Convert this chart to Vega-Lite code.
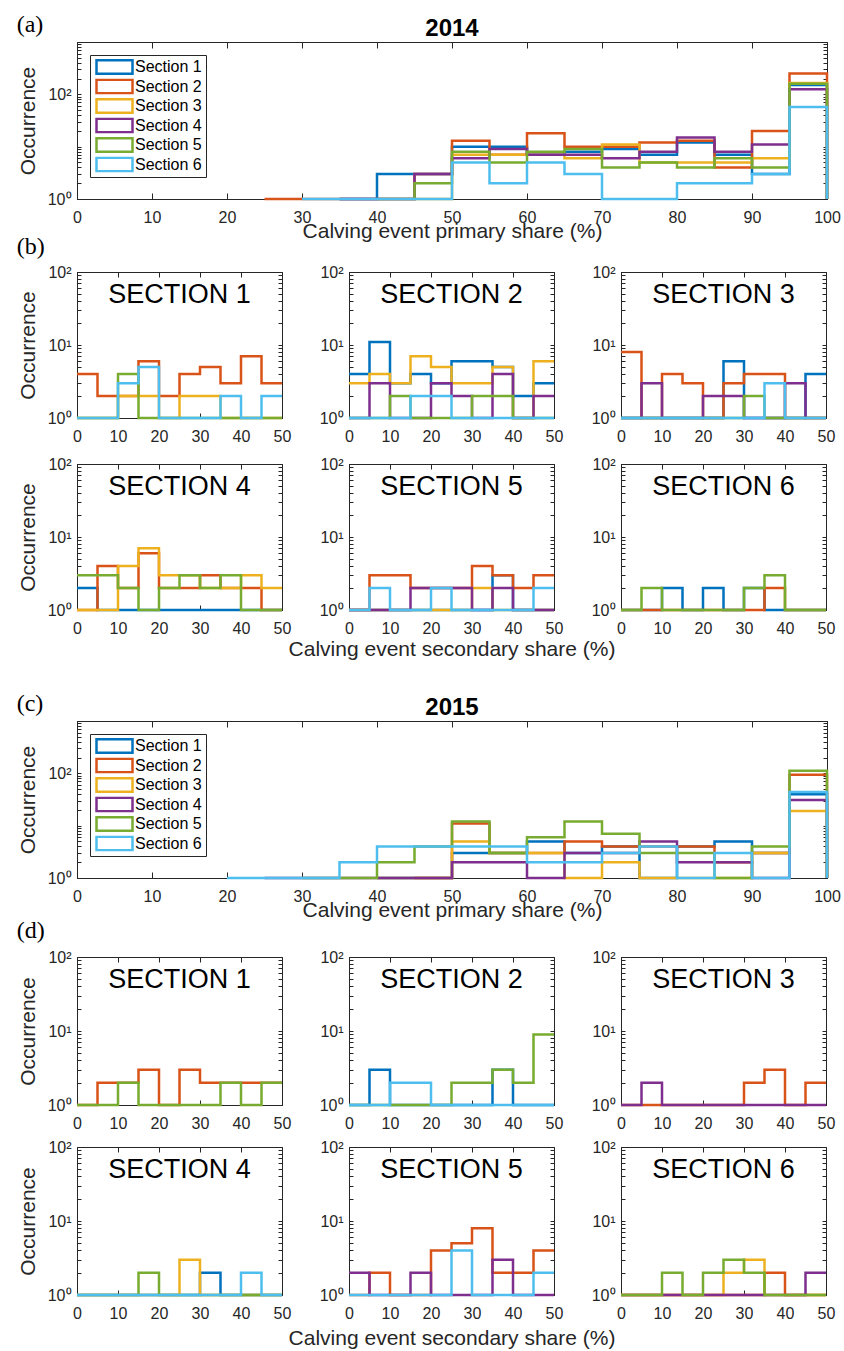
{
"$schema": "https://vega.github.io/schema/vega-lite/v6.json",
"background": "white",
"padding": {"left": 16, "top": 12, "right": 8, "bottom": 2},
"config": {
  "font": "Liberation Sans",
  "view": {"stroke": "#262626", "strokeWidth": 1},
  "axis": {"domainColor": "#262626", "tickColor": "#262626", "labelColor": "#262626", "titleColor": "#262626", "labelFont": "Liberation Sans", "titleFont": "Liberation Sans", "labelFontSize": 16, "titleFontSize": 21, "titleFontWeight": "normal", "grid": false, "labelFlush": false, "labelOverlap": false},
  "axisTop": {"labels": false, "domain": false, "tickSize": -5},
  "axisRight": {"labels": false, "domain": false, "tickSize": -4},
  "line": {"interpolate": "step-after", "strokeWidth": 2.5, "clip": false}
},
"datasets": {"h": [
{"p":"a","s":1,"x":35,"n":1},{"p":"a","s":1,"x":40,"n":3},{"p":"a","s":1,"x":45,"n":3},{"p":"a","s":1,"x":50,"n":10},{"p":"a","s":1,"x":55,"n":10},{"p":"a","s":1,"x":60,"n":7},{"p":"a","s":1,"x":65,"n":8},{"p":"a","s":1,"x":70,"n":9},{"p":"a","s":1,"x":75,"n":7},{"p":"a","s":1,"x":80,"n":12},{"p":"a","s":1,"x":85,"n":7},{"p":"a","s":1,"x":90,"n":3},{"p":"a","s":1,"x":95,"n":150},{"p":"a","s":1,"x":100,"n":150},{"p":"a","s":1,"x":100,"n":1},
{"p":"a","s":2,"x":25,"n":1},{"p":"a","s":2,"x":30,"n":1},{"p":"a","s":2,"x":35,"n":1},{"p":"a","s":2,"x":40,"n":1},{"p":"a","s":2,"x":45,"n":3},{"p":"a","s":2,"x":50,"n":13},{"p":"a","s":2,"x":55,"n":7},{"p":"a","s":2,"x":60,"n":18},{"p":"a","s":2,"x":65,"n":10},{"p":"a","s":2,"x":70,"n":10},{"p":"a","s":2,"x":75,"n":12},{"p":"a","s":2,"x":80,"n":13},{"p":"a","s":2,"x":85,"n":4},{"p":"a","s":2,"x":90,"n":20},{"p":"a","s":2,"x":95,"n":250},{"p":"a","s":2,"x":100,"n":250},{"p":"a","s":2,"x":100,"n":1},
{"p":"a","s":3,"x":45,"n":1},{"p":"a","s":3,"x":50,"n":7},{"p":"a","s":3,"x":55,"n":7},{"p":"a","s":3,"x":60,"n":7},{"p":"a","s":3,"x":65,"n":6},{"p":"a","s":3,"x":70,"n":11},{"p":"a","s":3,"x":75,"n":5},{"p":"a","s":3,"x":80,"n":5},{"p":"a","s":3,"x":85,"n":5},{"p":"a","s":3,"x":90,"n":6},{"p":"a","s":3,"x":95,"n":165},{"p":"a","s":3,"x":100,"n":165},{"p":"a","s":3,"x":100,"n":1},
{"p":"a","s":4,"x":35,"n":1},{"p":"a","s":4,"x":40,"n":1},{"p":"a","s":4,"x":45,"n":3},{"p":"a","s":4,"x":50,"n":6},{"p":"a","s":4,"x":55,"n":9},{"p":"a","s":4,"x":60,"n":7},{"p":"a","s":4,"x":65,"n":7},{"p":"a","s":4,"x":70,"n":6},{"p":"a","s":4,"x":75,"n":8},{"p":"a","s":4,"x":80,"n":15},{"p":"a","s":4,"x":85,"n":8},{"p":"a","s":4,"x":90,"n":11},{"p":"a","s":4,"x":95,"n":125},{"p":"a","s":4,"x":100,"n":125},{"p":"a","s":4,"x":100,"n":1},
{"p":"a","s":5,"x":40,"n":1},{"p":"a","s":5,"x":45,"n":2},{"p":"a","s":5,"x":50,"n":8},{"p":"a","s":5,"x":55,"n":5},{"p":"a","s":5,"x":60,"n":8},{"p":"a","s":5,"x":65,"n":9},{"p":"a","s":5,"x":70,"n":4},{"p":"a","s":5,"x":75,"n":5},{"p":"a","s":5,"x":80,"n":4},{"p":"a","s":5,"x":85,"n":6},{"p":"a","s":5,"x":90,"n":4},{"p":"a","s":5,"x":95,"n":160},{"p":"a","s":5,"x":100,"n":160},{"p":"a","s":5,"x":100,"n":1},
{"p":"a","s":6,"x":30,"n":1},{"p":"a","s":6,"x":35,"n":1},{"p":"a","s":6,"x":40,"n":1},{"p":"a","s":6,"x":45,"n":1},{"p":"a","s":6,"x":50,"n":5},{"p":"a","s":6,"x":55,"n":2},{"p":"a","s":6,"x":60,"n":5},{"p":"a","s":6,"x":65,"n":3},{"p":"a","s":6,"x":70,"n":1},{"p":"a","s":6,"x":75,"n":1},{"p":"a","s":6,"x":80,"n":2},{"p":"a","s":6,"x":85,"n":2},{"p":"a","s":6,"x":90,"n":3},{"p":"a","s":6,"x":95,"n":57},{"p":"a","s":6,"x":100,"n":57},{"p":"a","s":6,"x":100,"n":1},

{"p":"c","s":1,"x":40,"n":1},{"p":"c","s":1,"x":45,"n":1},{"p":"c","s":1,"x":50,"n":3},{"p":"c","s":1,"x":55,"n":3},{"p":"c","s":1,"x":60,"n":5},{"p":"c","s":1,"x":65,"n":3},{"p":"c","s":1,"x":70,"n":4},{"p":"c","s":1,"x":75,"n":1},{"p":"c","s":1,"x":80,"n":4},{"p":"c","s":1,"x":85,"n":5},{"p":"c","s":1,"x":90,"n":3},{"p":"c","s":1,"x":95,"n":40},{"p":"c","s":1,"x":100,"n":40},{"p":"c","s":1,"x":100,"n":1},
{"p":"c","s":2,"x":45,"n":1},{"p":"c","s":2,"x":50,"n":11},{"p":"c","s":2,"x":55,"n":3},{"p":"c","s":2,"x":60,"n":3},{"p":"c","s":2,"x":65,"n":5},{"p":"c","s":2,"x":70,"n":4},{"p":"c","s":2,"x":75,"n":4},{"p":"c","s":2,"x":80,"n":4},{"p":"c","s":2,"x":85,"n":2},{"p":"c","s":2,"x":90,"n":3},{"p":"c","s":2,"x":95,"n":94},{"p":"c","s":2,"x":100,"n":94},{"p":"c","s":2,"x":100,"n":1},
{"p":"c","s":3,"x":40,"n":1},{"p":"c","s":3,"x":45,"n":1},{"p":"c","s":3,"x":50,"n":5},{"p":"c","s":3,"x":55,"n":3},{"p":"c","s":3,"x":60,"n":3},{"p":"c","s":3,"x":65,"n":1},{"p":"c","s":3,"x":70,"n":2},{"p":"c","s":3,"x":75,"n":1},{"p":"c","s":3,"x":80,"n":1},{"p":"c","s":3,"x":85,"n":1},{"p":"c","s":3,"x":90,"n":3},{"p":"c","s":3,"x":95,"n":19},{"p":"c","s":3,"x":100,"n":19},{"p":"c","s":3,"x":100,"n":1},
{"p":"c","s":4,"x":25,"n":1},{"p":"c","s":4,"x":30,"n":1},{"p":"c","s":4,"x":35,"n":1},{"p":"c","s":4,"x":40,"n":1},{"p":"c","s":4,"x":45,"n":1},{"p":"c","s":4,"x":50,"n":2},{"p":"c","s":4,"x":55,"n":2},{"p":"c","s":4,"x":60,"n":1},{"p":"c","s":4,"x":65,"n":3},{"p":"c","s":4,"x":70,"n":3},{"p":"c","s":4,"x":75,"n":5},{"p":"c","s":4,"x":80,"n":2},{"p":"c","s":4,"x":85,"n":2},{"p":"c","s":4,"x":90,"n":1},{"p":"c","s":4,"x":95,"n":31},{"p":"c","s":4,"x":100,"n":31},{"p":"c","s":4,"x":100,"n":1},
{"p":"c","s":5,"x":30,"n":1},{"p":"c","s":5,"x":35,"n":1},{"p":"c","s":5,"x":40,"n":2},{"p":"c","s":5,"x":45,"n":4},{"p":"c","s":5,"x":50,"n":12},{"p":"c","s":5,"x":55,"n":3},{"p":"c","s":5,"x":60,"n":6},{"p":"c","s":5,"x":65,"n":12},{"p":"c","s":5,"x":70,"n":7},{"p":"c","s":5,"x":75,"n":3},{"p":"c","s":5,"x":80,"n":3},{"p":"c","s":5,"x":85,"n":1},{"p":"c","s":5,"x":90,"n":4},{"p":"c","s":5,"x":95,"n":112},{"p":"c","s":5,"x":100,"n":112},{"p":"c","s":5,"x":100,"n":1},
{"p":"c","s":6,"x":20,"n":1},{"p":"c","s":6,"x":25,"n":1},{"p":"c","s":6,"x":30,"n":1},{"p":"c","s":6,"x":35,"n":2},{"p":"c","s":6,"x":40,"n":4},{"p":"c","s":6,"x":45,"n":4},{"p":"c","s":6,"x":50,"n":4},{"p":"c","s":6,"x":55,"n":4},{"p":"c","s":6,"x":60,"n":2},{"p":"c","s":6,"x":65,"n":2},{"p":"c","s":6,"x":70,"n":3},{"p":"c","s":6,"x":75,"n":4},{"p":"c","s":6,"x":80,"n":1},{"p":"c","s":6,"x":85,"n":3},{"p":"c","s":6,"x":90,"n":1},{"p":"c","s":6,"x":95,"n":44},{"p":"c","s":6,"x":100,"n":44},{"p":"c","s":6,"x":100,"n":1},

{"p":"b1","s":2,"x":0,"n":4},{"p":"b1","s":2,"x":5,"n":2},{"p":"b1","s":2,"x":10,"n":2},{"p":"b1","s":2,"x":15,"n":6},{"p":"b1","s":2,"x":20,"n":2},{"p":"b1","s":2,"x":25,"n":4},{"p":"b1","s":2,"x":30,"n":5},{"p":"b1","s":2,"x":35,"n":3},{"p":"b1","s":2,"x":40,"n":7},{"p":"b1","s":2,"x":45,"n":3},{"p":"b1","s":2,"x":50,"n":3},
{"p":"b1","s":3,"x":0,"n":1},{"p":"b1","s":3,"x":5,"n":1},{"p":"b1","s":3,"x":10,"n":2},{"p":"b1","s":3,"x":15,"n":2},{"p":"b1","s":3,"x":20,"n":1},{"p":"b1","s":3,"x":25,"n":2},{"p":"b1","s":3,"x":30,"n":2},{"p":"b1","s":3,"x":35,"n":1},{"p":"b1","s":3,"x":40,"n":1},{"p":"b1","s":3,"x":45,"n":1},{"p":"b1","s":3,"x":50,"n":1},
{"p":"b1","s":5,"x":0,"n":1},{"p":"b1","s":5,"x":5,"n":1},{"p":"b1","s":5,"x":10,"n":4},{"p":"b1","s":5,"x":15,"n":1},{"p":"b1","s":5,"x":20,"n":1},{"p":"b1","s":5,"x":25,"n":1},{"p":"b1","s":5,"x":30,"n":1},{"p":"b1","s":5,"x":35,"n":1},{"p":"b1","s":5,"x":40,"n":1},{"p":"b1","s":5,"x":45,"n":1},{"p":"b1","s":5,"x":50,"n":1},
{"p":"b1","s":6,"x":0,"n":1},{"p":"b1","s":6,"x":5,"n":1},{"p":"b1","s":6,"x":10,"n":3},{"p":"b1","s":6,"x":15,"n":5},{"p":"b1","s":6,"x":20,"n":1},{"p":"b1","s":6,"x":25,"n":1},{"p":"b1","s":6,"x":30,"n":1},{"p":"b1","s":6,"x":35,"n":2},{"p":"b1","s":6,"x":40,"n":1},{"p":"b1","s":6,"x":45,"n":2},{"p":"b1","s":6,"x":50,"n":2},

{"p":"b2","s":1,"x":0,"n":4},{"p":"b2","s":1,"x":5,"n":11},{"p":"b2","s":1,"x":10,"n":3},{"p":"b2","s":1,"x":15,"n":4},{"p":"b2","s":1,"x":20,"n":3},{"p":"b2","s":1,"x":25,"n":6},{"p":"b2","s":1,"x":30,"n":6},{"p":"b2","s":1,"x":35,"n":5},{"p":"b2","s":1,"x":40,"n":2},{"p":"b2","s":1,"x":45,"n":3},{"p":"b2","s":1,"x":50,"n":3},
{"p":"b2","s":3,"x":0,"n":3},{"p":"b2","s":3,"x":5,"n":4},{"p":"b2","s":3,"x":10,"n":3},{"p":"b2","s":3,"x":15,"n":7},{"p":"b2","s":3,"x":20,"n":5},{"p":"b2","s":3,"x":25,"n":3},{"p":"b2","s":3,"x":30,"n":3},{"p":"b2","s":3,"x":35,"n":5},{"p":"b2","s":3,"x":40,"n":1},{"p":"b2","s":3,"x":45,"n":6},{"p":"b2","s":3,"x":50,"n":6},
{"p":"b2","s":4,"x":0,"n":1},{"p":"b2","s":4,"x":5,"n":3},{"p":"b2","s":4,"x":10,"n":1},{"p":"b2","s":4,"x":15,"n":1},{"p":"b2","s":4,"x":20,"n":3},{"p":"b2","s":4,"x":25,"n":2},{"p":"b2","s":4,"x":30,"n":1},{"p":"b2","s":4,"x":35,"n":4},{"p":"b2","s":4,"x":40,"n":1},{"p":"b2","s":4,"x":45,"n":2},{"p":"b2","s":4,"x":50,"n":2},
{"p":"b2","s":5,"x":0,"n":1},{"p":"b2","s":5,"x":5,"n":1},{"p":"b2","s":5,"x":10,"n":2},{"p":"b2","s":5,"x":15,"n":1},{"p":"b2","s":5,"x":20,"n":1},{"p":"b2","s":5,"x":25,"n":1},{"p":"b2","s":5,"x":30,"n":2},{"p":"b2","s":5,"x":35,"n":2},{"p":"b2","s":5,"x":40,"n":1},{"p":"b2","s":5,"x":45,"n":1},{"p":"b2","s":5,"x":50,"n":1},
{"p":"b2","s":6,"x":0,"n":1},{"p":"b2","s":6,"x":5,"n":1},{"p":"b2","s":6,"x":10,"n":1},{"p":"b2","s":6,"x":15,"n":2},{"p":"b2","s":6,"x":20,"n":2},{"p":"b2","s":6,"x":25,"n":1},{"p":"b2","s":6,"x":30,"n":1},{"p":"b2","s":6,"x":35,"n":1},{"p":"b2","s":6,"x":40,"n":1},{"p":"b2","s":6,"x":45,"n":1},{"p":"b2","s":6,"x":50,"n":1},

{"p":"b3","s":1,"x":0,"n":1},{"p":"b3","s":1,"x":5,"n":1},{"p":"b3","s":1,"x":10,"n":1},{"p":"b3","s":1,"x":15,"n":1},{"p":"b3","s":1,"x":20,"n":1},{"p":"b3","s":1,"x":25,"n":6},{"p":"b3","s":1,"x":30,"n":1},{"p":"b3","s":1,"x":35,"n":1},{"p":"b3","s":1,"x":40,"n":1},{"p":"b3","s":1,"x":45,"n":4},{"p":"b3","s":1,"x":50,"n":4},
{"p":"b3","s":2,"x":0,"n":8},{"p":"b3","s":2,"x":5,"n":1},{"p":"b3","s":2,"x":10,"n":4},{"p":"b3","s":2,"x":15,"n":3},{"p":"b3","s":2,"x":20,"n":1},{"p":"b3","s":2,"x":25,"n":3},{"p":"b3","s":2,"x":30,"n":4},{"p":"b3","s":2,"x":35,"n":4},{"p":"b3","s":2,"x":40,"n":1},{"p":"b3","s":2,"x":45,"n":1},{"p":"b3","s":2,"x":50,"n":1},
{"p":"b3","s":4,"x":0,"n":1},{"p":"b3","s":4,"x":5,"n":3},{"p":"b3","s":4,"x":10,"n":1},{"p":"b3","s":4,"x":15,"n":1},{"p":"b3","s":4,"x":20,"n":2},{"p":"b3","s":4,"x":25,"n":2},{"p":"b3","s":4,"x":30,"n":1},{"p":"b3","s":4,"x":35,"n":1},{"p":"b3","s":4,"x":40,"n":3},{"p":"b3","s":4,"x":45,"n":1},{"p":"b3","s":4,"x":50,"n":1},
{"p":"b3","s":5,"x":0,"n":1},{"p":"b3","s":5,"x":5,"n":1},{"p":"b3","s":5,"x":10,"n":1},{"p":"b3","s":5,"x":15,"n":1},{"p":"b3","s":5,"x":20,"n":1},{"p":"b3","s":5,"x":25,"n":1},{"p":"b3","s":5,"x":30,"n":2},{"p":"b3","s":5,"x":35,"n":1},{"p":"b3","s":5,"x":40,"n":1},{"p":"b3","s":5,"x":45,"n":1},{"p":"b3","s":5,"x":50,"n":1},
{"p":"b3","s":6,"x":0,"n":1},{"p":"b3","s":6,"x":5,"n":1},{"p":"b3","s":6,"x":10,"n":1},{"p":"b3","s":6,"x":15,"n":1},{"p":"b3","s":6,"x":20,"n":1},{"p":"b3","s":6,"x":25,"n":1},{"p":"b3","s":6,"x":30,"n":1},{"p":"b3","s":6,"x":35,"n":3},{"p":"b3","s":6,"x":40,"n":1},{"p":"b3","s":6,"x":45,"n":1},{"p":"b3","s":6,"x":50,"n":1},

{"p":"b4","s":1,"x":0,"n":2},{"p":"b4","s":1,"x":5,"n":1},{"p":"b4","s":1,"x":10,"n":1},{"p":"b4","s":1,"x":15,"n":1},{"p":"b4","s":1,"x":20,"n":1},{"p":"b4","s":1,"x":25,"n":1},{"p":"b4","s":1,"x":30,"n":1},{"p":"b4","s":1,"x":35,"n":1},{"p":"b4","s":1,"x":40,"n":1},{"p":"b4","s":1,"x":45,"n":1},{"p":"b4","s":1,"x":50,"n":1},
{"p":"b4","s":2,"x":0,"n":1},{"p":"b4","s":2,"x":5,"n":4},{"p":"b4","s":2,"x":10,"n":2},{"p":"b4","s":2,"x":15,"n":6},{"p":"b4","s":2,"x":20,"n":2},{"p":"b4","s":2,"x":25,"n":2},{"p":"b4","s":2,"x":30,"n":3},{"p":"b4","s":2,"x":35,"n":2},{"p":"b4","s":2,"x":40,"n":2},{"p":"b4","s":2,"x":45,"n":1},{"p":"b4","s":2,"x":50,"n":1},
{"p":"b4","s":3,"x":0,"n":1},{"p":"b4","s":3,"x":5,"n":1},{"p":"b4","s":3,"x":10,"n":4},{"p":"b4","s":3,"x":15,"n":7},{"p":"b4","s":3,"x":20,"n":3},{"p":"b4","s":3,"x":25,"n":3},{"p":"b4","s":3,"x":30,"n":2},{"p":"b4","s":3,"x":35,"n":2},{"p":"b4","s":3,"x":40,"n":3},{"p":"b4","s":3,"x":45,"n":2},{"p":"b4","s":3,"x":50,"n":2},
{"p":"b4","s":5,"x":0,"n":3},{"p":"b4","s":5,"x":5,"n":3},{"p":"b4","s":5,"x":10,"n":2},{"p":"b4","s":5,"x":15,"n":1},{"p":"b4","s":5,"x":20,"n":2},{"p":"b4","s":5,"x":25,"n":3},{"p":"b4","s":5,"x":30,"n":2},{"p":"b4","s":5,"x":35,"n":3},{"p":"b4","s":5,"x":40,"n":1},{"p":"b4","s":5,"x":45,"n":1},{"p":"b4","s":5,"x":50,"n":1},

{"p":"b5","s":1,"x":0,"n":1},{"p":"b5","s":1,"x":5,"n":1},{"p":"b5","s":1,"x":10,"n":1},{"p":"b5","s":1,"x":15,"n":1},{"p":"b5","s":1,"x":20,"n":1},{"p":"b5","s":1,"x":25,"n":1},{"p":"b5","s":1,"x":30,"n":1},{"p":"b5","s":1,"x":35,"n":3},{"p":"b5","s":1,"x":40,"n":1},{"p":"b5","s":1,"x":45,"n":1},{"p":"b5","s":1,"x":50,"n":1},
{"p":"b5","s":2,"x":0,"n":1},{"p":"b5","s":2,"x":5,"n":3},{"p":"b5","s":2,"x":10,"n":3},{"p":"b5","s":2,"x":15,"n":2},{"p":"b5","s":2,"x":20,"n":2},{"p":"b5","s":2,"x":25,"n":2},{"p":"b5","s":2,"x":30,"n":4},{"p":"b5","s":2,"x":35,"n":3},{"p":"b5","s":2,"x":40,"n":2},{"p":"b5","s":2,"x":45,"n":3},{"p":"b5","s":2,"x":50,"n":3},
{"p":"b5","s":3,"x":0,"n":1},{"p":"b5","s":3,"x":5,"n":1},{"p":"b5","s":3,"x":10,"n":1},{"p":"b5","s":3,"x":15,"n":1},{"p":"b5","s":3,"x":20,"n":1},{"p":"b5","s":3,"x":25,"n":1},{"p":"b5","s":3,"x":30,"n":2},{"p":"b5","s":3,"x":35,"n":1},{"p":"b5","s":3,"x":40,"n":1},{"p":"b5","s":3,"x":45,"n":1},{"p":"b5","s":3,"x":50,"n":1},
{"p":"b5","s":4,"x":0,"n":1},{"p":"b5","s":4,"x":5,"n":1},{"p":"b5","s":4,"x":10,"n":1},{"p":"b5","s":4,"x":15,"n":2},{"p":"b5","s":4,"x":20,"n":2},{"p":"b5","s":4,"x":25,"n":2},{"p":"b5","s":4,"x":30,"n":1},{"p":"b5","s":4,"x":35,"n":2},{"p":"b5","s":4,"x":40,"n":1},{"p":"b5","s":4,"x":45,"n":1},{"p":"b5","s":4,"x":50,"n":1},
{"p":"b5","s":6,"x":0,"n":1},{"p":"b5","s":6,"x":5,"n":2},{"p":"b5","s":6,"x":10,"n":1},{"p":"b5","s":6,"x":15,"n":1},{"p":"b5","s":6,"x":20,"n":2},{"p":"b5","s":6,"x":25,"n":1},{"p":"b5","s":6,"x":30,"n":1},{"p":"b5","s":6,"x":35,"n":1},{"p":"b5","s":6,"x":40,"n":1},{"p":"b5","s":6,"x":45,"n":2},{"p":"b5","s":6,"x":50,"n":2},

{"p":"b6","s":1,"x":0,"n":1},{"p":"b6","s":1,"x":5,"n":1},{"p":"b6","s":1,"x":10,"n":2},{"p":"b6","s":1,"x":15,"n":1},{"p":"b6","s":1,"x":20,"n":2},{"p":"b6","s":1,"x":25,"n":1},{"p":"b6","s":1,"x":30,"n":2},{"p":"b6","s":1,"x":35,"n":1},{"p":"b6","s":1,"x":40,"n":1},{"p":"b6","s":1,"x":45,"n":1},{"p":"b6","s":1,"x":50,"n":1},
{"p":"b6","s":2,"x":0,"n":1},{"p":"b6","s":2,"x":5,"n":1},{"p":"b6","s":2,"x":10,"n":1},{"p":"b6","s":2,"x":15,"n":1},{"p":"b6","s":2,"x":20,"n":1},{"p":"b6","s":2,"x":25,"n":1},{"p":"b6","s":2,"x":30,"n":1},{"p":"b6","s":2,"x":35,"n":2},{"p":"b6","s":2,"x":40,"n":1},{"p":"b6","s":2,"x":45,"n":1},{"p":"b6","s":2,"x":50,"n":1},
{"p":"b6","s":5,"x":0,"n":1},{"p":"b6","s":5,"x":5,"n":2},{"p":"b6","s":5,"x":10,"n":1},{"p":"b6","s":5,"x":15,"n":1},{"p":"b6","s":5,"x":20,"n":1},{"p":"b6","s":5,"x":25,"n":1},{"p":"b6","s":5,"x":30,"n":2},{"p":"b6","s":5,"x":35,"n":3},{"p":"b6","s":5,"x":40,"n":1},{"p":"b6","s":5,"x":45,"n":1},{"p":"b6","s":5,"x":50,"n":1},

{"p":"d1","s":2,"x":0,"n":1},{"p":"d1","s":2,"x":5,"n":2},{"p":"d1","s":2,"x":10,"n":2},{"p":"d1","s":2,"x":15,"n":3},{"p":"d1","s":2,"x":20,"n":1},{"p":"d1","s":2,"x":25,"n":3},{"p":"d1","s":2,"x":30,"n":2},{"p":"d1","s":2,"x":35,"n":2},{"p":"d1","s":2,"x":40,"n":2},{"p":"d1","s":2,"x":45,"n":2},{"p":"d1","s":2,"x":50,"n":2},
{"p":"d1","s":5,"x":0,"n":1},{"p":"d1","s":5,"x":5,"n":1},{"p":"d1","s":5,"x":10,"n":2},{"p":"d1","s":5,"x":15,"n":1},{"p":"d1","s":5,"x":20,"n":1},{"p":"d1","s":5,"x":25,"n":1},{"p":"d1","s":5,"x":30,"n":1},{"p":"d1","s":5,"x":35,"n":2},{"p":"d1","s":5,"x":40,"n":1},{"p":"d1","s":5,"x":45,"n":2},{"p":"d1","s":5,"x":50,"n":2},

{"p":"d2","s":1,"x":0,"n":1},{"p":"d2","s":1,"x":5,"n":3},{"p":"d2","s":1,"x":10,"n":1},{"p":"d2","s":1,"x":15,"n":1},{"p":"d2","s":1,"x":20,"n":1},{"p":"d2","s":1,"x":25,"n":1},{"p":"d2","s":1,"x":30,"n":1},{"p":"d2","s":1,"x":35,"n":3},{"p":"d2","s":1,"x":40,"n":1},{"p":"d2","s":1,"x":45,"n":1},{"p":"d2","s":1,"x":50,"n":1},
{"p":"d2","s":5,"x":0,"n":1},{"p":"d2","s":5,"x":5,"n":1},{"p":"d2","s":5,"x":10,"n":1},{"p":"d2","s":5,"x":15,"n":1},{"p":"d2","s":5,"x":20,"n":1},{"p":"d2","s":5,"x":25,"n":2},{"p":"d2","s":5,"x":30,"n":2},{"p":"d2","s":5,"x":35,"n":3},{"p":"d2","s":5,"x":40,"n":2},{"p":"d2","s":5,"x":45,"n":9},{"p":"d2","s":5,"x":50,"n":9},
{"p":"d2","s":6,"x":0,"n":1},{"p":"d2","s":6,"x":5,"n":1},{"p":"d2","s":6,"x":10,"n":2},{"p":"d2","s":6,"x":15,"n":2},{"p":"d2","s":6,"x":20,"n":1},{"p":"d2","s":6,"x":25,"n":1},{"p":"d2","s":6,"x":30,"n":1},{"p":"d2","s":6,"x":35,"n":1},{"p":"d2","s":6,"x":40,"n":1},{"p":"d2","s":6,"x":45,"n":1},{"p":"d2","s":6,"x":50,"n":1},

{"p":"d3","s":2,"x":0,"n":1},{"p":"d3","s":2,"x":5,"n":1},{"p":"d3","s":2,"x":10,"n":1},{"p":"d3","s":2,"x":15,"n":1},{"p":"d3","s":2,"x":20,"n":1},{"p":"d3","s":2,"x":25,"n":1},{"p":"d3","s":2,"x":30,"n":2},{"p":"d3","s":2,"x":35,"n":3},{"p":"d3","s":2,"x":40,"n":1},{"p":"d3","s":2,"x":45,"n":2},{"p":"d3","s":2,"x":50,"n":2},
{"p":"d3","s":4,"x":0,"n":1},{"p":"d3","s":4,"x":5,"n":2},{"p":"d3","s":4,"x":10,"n":1},{"p":"d3","s":4,"x":15,"n":1},{"p":"d3","s":4,"x":20,"n":1},{"p":"d3","s":4,"x":25,"n":1},{"p":"d3","s":4,"x":30,"n":1},{"p":"d3","s":4,"x":35,"n":1},{"p":"d3","s":4,"x":40,"n":1},{"p":"d3","s":4,"x":45,"n":1},{"p":"d3","s":4,"x":50,"n":1},

{"p":"d4","s":1,"x":0,"n":1},{"p":"d4","s":1,"x":5,"n":1},{"p":"d4","s":1,"x":10,"n":1},{"p":"d4","s":1,"x":15,"n":1},{"p":"d4","s":1,"x":20,"n":1},{"p":"d4","s":1,"x":25,"n":1},{"p":"d4","s":1,"x":30,"n":2},{"p":"d4","s":1,"x":35,"n":1},{"p":"d4","s":1,"x":40,"n":1},{"p":"d4","s":1,"x":45,"n":1},{"p":"d4","s":1,"x":50,"n":1},
{"p":"d4","s":3,"x":0,"n":1},{"p":"d4","s":3,"x":5,"n":1},{"p":"d4","s":3,"x":10,"n":1},{"p":"d4","s":3,"x":15,"n":1},{"p":"d4","s":3,"x":20,"n":1},{"p":"d4","s":3,"x":25,"n":3},{"p":"d4","s":3,"x":30,"n":1},{"p":"d4","s":3,"x":35,"n":1},{"p":"d4","s":3,"x":40,"n":1},{"p":"d4","s":3,"x":45,"n":1},{"p":"d4","s":3,"x":50,"n":1},
{"p":"d4","s":5,"x":0,"n":1},{"p":"d4","s":5,"x":5,"n":1},{"p":"d4","s":5,"x":10,"n":1},{"p":"d4","s":5,"x":15,"n":2},{"p":"d4","s":5,"x":20,"n":1},{"p":"d4","s":5,"x":25,"n":1},{"p":"d4","s":5,"x":30,"n":1},{"p":"d4","s":5,"x":35,"n":1},{"p":"d4","s":5,"x":40,"n":1},{"p":"d4","s":5,"x":45,"n":1},{"p":"d4","s":5,"x":50,"n":1},
{"p":"d4","s":6,"x":0,"n":1},{"p":"d4","s":6,"x":5,"n":1},{"p":"d4","s":6,"x":10,"n":1},{"p":"d4","s":6,"x":15,"n":1},{"p":"d4","s":6,"x":20,"n":1},{"p":"d4","s":6,"x":25,"n":1},{"p":"d4","s":6,"x":30,"n":1},{"p":"d4","s":6,"x":35,"n":1},{"p":"d4","s":6,"x":40,"n":2},{"p":"d4","s":6,"x":45,"n":1},{"p":"d4","s":6,"x":50,"n":1},

{"p":"d5","s":2,"x":0,"n":1},{"p":"d5","s":2,"x":5,"n":2},{"p":"d5","s":2,"x":10,"n":1},{"p":"d5","s":2,"x":15,"n":1},{"p":"d5","s":2,"x":20,"n":4},{"p":"d5","s":2,"x":25,"n":5},{"p":"d5","s":2,"x":30,"n":8},{"p":"d5","s":2,"x":35,"n":2},{"p":"d5","s":2,"x":40,"n":2},{"p":"d5","s":2,"x":45,"n":4},{"p":"d5","s":2,"x":50,"n":4},
{"p":"d5","s":4,"x":0,"n":2},{"p":"d5","s":4,"x":5,"n":1},{"p":"d5","s":4,"x":10,"n":1},{"p":"d5","s":4,"x":15,"n":2},{"p":"d5","s":4,"x":20,"n":1},{"p":"d5","s":4,"x":25,"n":1},{"p":"d5","s":4,"x":30,"n":1},{"p":"d5","s":4,"x":35,"n":3},{"p":"d5","s":4,"x":40,"n":1},{"p":"d5","s":4,"x":45,"n":1},{"p":"d5","s":4,"x":50,"n":1},
{"p":"d5","s":6,"x":0,"n":1},{"p":"d5","s":6,"x":5,"n":1},{"p":"d5","s":6,"x":10,"n":1},{"p":"d5","s":6,"x":15,"n":1},{"p":"d5","s":6,"x":20,"n":1},{"p":"d5","s":6,"x":25,"n":4},{"p":"d5","s":6,"x":30,"n":1},{"p":"d5","s":6,"x":35,"n":1},{"p":"d5","s":6,"x":40,"n":1},{"p":"d5","s":6,"x":45,"n":2},{"p":"d5","s":6,"x":50,"n":2},

{"p":"d6","s":2,"x":0,"n":1},{"p":"d6","s":2,"x":5,"n":1},{"p":"d6","s":2,"x":10,"n":1},{"p":"d6","s":2,"x":15,"n":1},{"p":"d6","s":2,"x":20,"n":1},{"p":"d6","s":2,"x":25,"n":1},{"p":"d6","s":2,"x":30,"n":1},{"p":"d6","s":2,"x":35,"n":2},{"p":"d6","s":2,"x":40,"n":1},{"p":"d6","s":2,"x":45,"n":1},{"p":"d6","s":2,"x":50,"n":1},
{"p":"d6","s":3,"x":0,"n":1},{"p":"d6","s":3,"x":5,"n":1},{"p":"d6","s":3,"x":10,"n":1},{"p":"d6","s":3,"x":15,"n":1},{"p":"d6","s":3,"x":20,"n":1},{"p":"d6","s":3,"x":25,"n":2},{"p":"d6","s":3,"x":30,"n":3},{"p":"d6","s":3,"x":35,"n":1},{"p":"d6","s":3,"x":40,"n":1},{"p":"d6","s":3,"x":45,"n":1},{"p":"d6","s":3,"x":50,"n":1},
{"p":"d6","s":4,"x":0,"n":1},{"p":"d6","s":4,"x":5,"n":1},{"p":"d6","s":4,"x":10,"n":1},{"p":"d6","s":4,"x":15,"n":1},{"p":"d6","s":4,"x":20,"n":1},{"p":"d6","s":4,"x":25,"n":1},{"p":"d6","s":4,"x":30,"n":1},{"p":"d6","s":4,"x":35,"n":1},{"p":"d6","s":4,"x":40,"n":1},{"p":"d6","s":4,"x":45,"n":2},{"p":"d6","s":4,"x":50,"n":2},
{"p":"d6","s":5,"x":0,"n":1},{"p":"d6","s":5,"x":5,"n":1},{"p":"d6","s":5,"x":10,"n":2},{"p":"d6","s":5,"x":15,"n":1},{"p":"d6","s":5,"x":20,"n":2},{"p":"d6","s":5,"x":25,"n":3},{"p":"d6","s":5,"x":30,"n":2},{"p":"d6","s":5,"x":35,"n":1},{"p":"d6","s":5,"x":40,"n":1},{"p":"d6","s":5,"x":45,"n":1},{"p":"d6","s":5,"x":50,"n":1}
]},
"resolve": {"scale": {"color": "independent"}, "legend": {"color": "independent"}},
"spacing": 31,
"vconcat": [
 {"spacing": -8, "resolve": {"scale": {"color": "independent"}, "legend": {"color": "independent"}},
  "vconcat": [
  {"title": {"text": "(a)", "anchor": "start", "font": "Liberation Serif", "fontSize": 24, "fontWeight": "normal", "color": "black", "offset": -20},
   "resolve": {"scale": {"color": "independent"}, "legend": {"color": "independent"}},
   "vconcat": [
    {"width": 750, "height": 157,
     "title": {"text": "2014", "fontSize": 24, "fontWeight": "bold", "color": "black", "offset": -7},
     "data": {"name": "h"}, "transform": [{"filter": "datum.p == 'a'"}],
     "resolve": {"axis": {"x": "independent", "y": "independent"}},
     "layer": [
      {"mark": {"type": "line"},
       "encoding": {
        "x": {"field": "x", "type": "quantitative", "scale": {"domain": [0, 100], "nice": false, "zero": false}, "axis": {"values": [0,10,20,30,40,50,60,70,80,90,100], "title": "Calving event primary share (%)", "tickSize": -6, "labelPadding": 16, "titlePadding": -5}},
        "y": {"field": "n", "type": "quantitative", "scale": {"type": "log", "domain": [1, 1000], "nice": false}, "axis": {"values": [1,2,3,4,5,6,7,8,9,10,20,30,40,50,60,70,80,90,100,200,300,400,500,600,700,800,900,1000], "labelExpr": "datum.value == 1 ? '10⁰' : datum.value == 100 ? '10²' : ''", "title": "Occurrence", "tickSize": -4, "labelPadding": 10, "titlePadding": 9}},
        "color": {"field": "s", "type": "nominal", "scale": {"domain": [1,2,3,4,5,6], "range": ["#0072BD","#D95319","#EDB120","#7E2F8E","#77AC30","#4DBEEE"]},
         "legend": {"orient": "top-left", "offset": 13, "title": null, "labelExpr": "'Section ' + datum.label", "symbolType": "M-2.25,-0.85H2.25V0.85H-2.25Z", "symbolSize": 256, "symbolStrokeWidth": 3, "symbolFillColor": "transparent", "symbolOffset": 11, "clipHeight": 16, "labelFontSize": 16, "labelFont": "Liberation Sans", "labelColor": "black", "strokeColor": "#262626", "fillColor": "white", "padding": 4, "rowPadding": 3.5, "labelOffset": 11}}}},
      {"mark": {"type": "line", "opacity": 0},
       "encoding": {
        "x": {"field": "x", "type": "quantitative", "scale": {"domain": [0, 100], "nice": false, "zero": false}, "axis": {"orient": "top", "values": [0,10,20,30,40,50,60,70,80,90,100], "title": null, "tickSize": -6}},
        "y": {"field": "n", "type": "quantitative", "scale": {"type": "log", "domain": [1, 1000], "nice": false}, "axis": {"orient": "right", "values": [1,2,3,4,5,6,7,8,9,10,20,30,40,50,60,70,80,90,100,200,300,400,500,600,700,800,900,1000], "title": null}}}}
     ]}
   ]},
  {"title": {"text": "(b)", "anchor": "start", "font": "Liberation Serif", "fontSize": 24, "fontWeight": "normal", "color": "black", "offset": 5},
   "spacing": 10,
   "vconcat": [
    {"spacing": 67, "bounds": "flush", "hconcat": [
     {"width": 205, "height": 146, "title": {"text": "SECTION 1", "fontSize": 27, "fontWeight": "normal", "color": "black", "offset": -45, "frame": "group"},
      "data": {"name": "h"}, "transform": [{"filter": "datum.p == 'b1'"}], "resolve": {"axis": {"x": "independent", "y": "independent"}},
      "layer": [
       {"mark": {"type": "line"}, "encoding": {
        "x": {"field": "x", "type": "quantitative", "scale": {"domain": [0, 50], "nice": false, "zero": false}, "axis": {"values": [0,10,20,30,40,50], "title": null, "tickSize": -5, "labelPadding": 15}},
        "y": {"field": "n", "type": "quantitative", "scale": {"type": "log", "domain": [1, 100], "nice": false}, "axis": {"values": [1,2,3,4,5,6,7,8,9,10,20,30,40,50,60,70,80,90,100], "labelExpr": "datum.value == 1 ? '10⁰' : datum.value == 10 ? '10¹' : datum.value == 100 ? '10²' : ''", "title": "Occurrence", "tickSize": -4, "labelPadding": 10, "titlePadding": 9}},
        "color": {"field": "s", "type": "nominal", "scale": {"domain": [1,2,3,4,5,6], "range": ["#0072BD","#D95319","#EDB120","#7E2F8E","#77AC30","#4DBEEE"]}, "legend": null}}},
       {"mark": {"type": "line", "opacity": 0}, "encoding": {
        "x": {"field": "x", "type": "quantitative", "scale": {"domain": [0, 50], "nice": false, "zero": false}, "axis": {"orient": "top", "values": [0,10,20,30,40,50], "title": null}},
        "y": {"field": "n", "type": "quantitative", "scale": {"type": "log", "domain": [1, 100], "nice": false}, "axis": {"orient": "right", "values": [1,2,3,4,5,6,7,8,9,10,20,30,40,50,60,70,80,90,100], "title": null}}}}
      ]},
     {"width": 205, "height": 146, "title": {"text": "SECTION 2", "fontSize": 27, "fontWeight": "normal", "color": "black", "offset": -45, "frame": "group"},
      "data": {"name": "h"}, "transform": [{"filter": "datum.p == 'b2'"}], "resolve": {"axis": {"x": "independent", "y": "independent"}},
      "layer": [
       {"mark": {"type": "line"}, "encoding": {
        "x": {"field": "x", "type": "quantitative", "scale": {"domain": [0, 50], "nice": false, "zero": false}, "axis": {"values": [0,10,20,30,40,50], "title": null, "tickSize": -5, "labelPadding": 15}},
        "y": {"field": "n", "type": "quantitative", "scale": {"type": "log", "domain": [1, 100], "nice": false}, "axis": {"values": [1,2,3,4,5,6,7,8,9,10,20,30,40,50,60,70,80,90,100], "labelExpr": "datum.value == 1 ? '10⁰' : datum.value == 10 ? '10¹' : datum.value == 100 ? '10²' : ''", "title": null, "tickSize": -4, "labelPadding": 10}},
        "color": {"field": "s", "type": "nominal", "scale": {"domain": [1,2,3,4,5,6], "range": ["#0072BD","#D95319","#EDB120","#7E2F8E","#77AC30","#4DBEEE"]}, "legend": null}}},
       {"mark": {"type": "line", "opacity": 0}, "encoding": {
        "x": {"field": "x", "type": "quantitative", "scale": {"domain": [0, 50], "nice": false, "zero": false}, "axis": {"orient": "top", "values": [0,10,20,30,40,50], "title": null}},
        "y": {"field": "n", "type": "quantitative", "scale": {"type": "log", "domain": [1, 100], "nice": false}, "axis": {"orient": "right", "values": [1,2,3,4,5,6,7,8,9,10,20,30,40,50,60,70,80,90,100], "title": null}}}}
      ]},
     {"width": 205, "height": 146, "title": {"text": "SECTION 3", "fontSize": 27, "fontWeight": "normal", "color": "black", "offset": -45, "frame": "group"},
      "data": {"name": "h"}, "transform": [{"filter": "datum.p == 'b3'"}], "resolve": {"axis": {"x": "independent", "y": "independent"}},
      "layer": [
       {"mark": {"type": "line"}, "encoding": {
        "x": {"field": "x", "type": "quantitative", "scale": {"domain": [0, 50], "nice": false, "zero": false}, "axis": {"values": [0,10,20,30,40,50], "title": null, "tickSize": -5, "labelPadding": 15}},
        "y": {"field": "n", "type": "quantitative", "scale": {"type": "log", "domain": [1, 100], "nice": false}, "axis": {"values": [1,2,3,4,5,6,7,8,9,10,20,30,40,50,60,70,80,90,100], "labelExpr": "datum.value == 1 ? '10⁰' : datum.value == 10 ? '10¹' : datum.value == 100 ? '10²' : ''", "title": null, "tickSize": -4, "labelPadding": 10}},
        "color": {"field": "s", "type": "nominal", "scale": {"domain": [1,2,3,4,5,6], "range": ["#0072BD","#D95319","#EDB120","#7E2F8E","#77AC30","#4DBEEE"]}, "legend": null}}},
       {"mark": {"type": "line", "opacity": 0}, "encoding": {
        "x": {"field": "x", "type": "quantitative", "scale": {"domain": [0, 50], "nice": false, "zero": false}, "axis": {"orient": "top", "values": [0,10,20,30,40,50], "title": null}},
        "y": {"field": "n", "type": "quantitative", "scale": {"type": "log", "domain": [1, 100], "nice": false}, "axis": {"orient": "right", "values": [1,2,3,4,5,6,7,8,9,10,20,30,40,50,60,70,80,90,100], "title": null}}}}
      ]}
    ]},
    {"spacing": 67, "bounds": "flush", "hconcat": [
     {"width": 205, "height": 146, "title": {"text": "SECTION 4", "fontSize": 27, "fontWeight": "normal", "color": "black", "offset": -45, "frame": "group"},
      "data": {"name": "h"}, "transform": [{"filter": "datum.p == 'b4'"}], "resolve": {"axis": {"x": "independent", "y": "independent"}},
      "layer": [
       {"mark": {"type": "line"}, "encoding": {
        "x": {"field": "x", "type": "quantitative", "scale": {"domain": [0, 50], "nice": false, "zero": false}, "axis": {"values": [0,10,20,30,40,50], "title": null, "tickSize": -5, "labelPadding": 15}},
        "y": {"field": "n", "type": "quantitative", "scale": {"type": "log", "domain": [1, 100], "nice": false}, "axis": {"values": [1,2,3,4,5,6,7,8,9,10,20,30,40,50,60,70,80,90,100], "labelExpr": "datum.value == 1 ? '10⁰' : datum.value == 10 ? '10¹' : datum.value == 100 ? '10²' : ''", "title": "Occurrence", "tickSize": -4, "labelPadding": 10, "titlePadding": 9}},
        "color": {"field": "s", "type": "nominal", "scale": {"domain": [1,2,3,4,5,6], "range": ["#0072BD","#D95319","#EDB120","#7E2F8E","#77AC30","#4DBEEE"]}, "legend": null}}},
       {"mark": {"type": "line", "opacity": 0}, "encoding": {
        "x": {"field": "x", "type": "quantitative", "scale": {"domain": [0, 50], "nice": false, "zero": false}, "axis": {"orient": "top", "values": [0,10,20,30,40,50], "title": null}},
        "y": {"field": "n", "type": "quantitative", "scale": {"type": "log", "domain": [1, 100], "nice": false}, "axis": {"orient": "right", "values": [1,2,3,4,5,6,7,8,9,10,20,30,40,50,60,70,80,90,100], "title": null}}}}
      ]},
     {"width": 205, "height": 146, "title": {"text": "SECTION 5", "fontSize": 27, "fontWeight": "normal", "color": "black", "offset": -45, "frame": "group"},
      "data": {"name": "h"}, "transform": [{"filter": "datum.p == 'b5'"}], "resolve": {"axis": {"x": "independent", "y": "independent"}},
      "layer": [
       {"mark": {"type": "line"}, "encoding": {
        "x": {"field": "x", "type": "quantitative", "scale": {"domain": [0, 50], "nice": false, "zero": false}, "axis": {"values": [0,10,20,30,40,50], "title": "Calving event secondary share (%)", "tickSize": -5, "labelPadding": 15, "titlePadding": 2}},
        "y": {"field": "n", "type": "quantitative", "scale": {"type": "log", "domain": [1, 100], "nice": false}, "axis": {"values": [1,2,3,4,5,6,7,8,9,10,20,30,40,50,60,70,80,90,100], "labelExpr": "datum.value == 1 ? '10⁰' : datum.value == 10 ? '10¹' : datum.value == 100 ? '10²' : ''", "title": null, "tickSize": -4, "labelPadding": 10}},
        "color": {"field": "s", "type": "nominal", "scale": {"domain": [1,2,3,4,5,6], "range": ["#0072BD","#D95319","#EDB120","#7E2F8E","#77AC30","#4DBEEE"]}, "legend": null}}},
       {"mark": {"type": "line", "opacity": 0}, "encoding": {
        "x": {"field": "x", "type": "quantitative", "scale": {"domain": [0, 50], "nice": false, "zero": false}, "axis": {"orient": "top", "values": [0,10,20,30,40,50], "title": null}},
        "y": {"field": "n", "type": "quantitative", "scale": {"type": "log", "domain": [1, 100], "nice": false}, "axis": {"orient": "right", "values": [1,2,3,4,5,6,7,8,9,10,20,30,40,50,60,70,80,90,100], "title": null}}}}
      ]},
     {"width": 205, "height": 146, "title": {"text": "SECTION 6", "fontSize": 27, "fontWeight": "normal", "color": "black", "offset": -45, "frame": "group"},
      "data": {"name": "h"}, "transform": [{"filter": "datum.p == 'b6'"}], "resolve": {"axis": {"x": "independent", "y": "independent"}},
      "layer": [
       {"mark": {"type": "line"}, "encoding": {
        "x": {"field": "x", "type": "quantitative", "scale": {"domain": [0, 50], "nice": false, "zero": false}, "axis": {"values": [0,10,20,30,40,50], "title": null, "tickSize": -5, "labelPadding": 15}},
        "y": {"field": "n", "type": "quantitative", "scale": {"type": "log", "domain": [1, 100], "nice": false}, "axis": {"values": [1,2,3,4,5,6,7,8,9,10,20,30,40,50,60,70,80,90,100], "labelExpr": "datum.value == 1 ? '10⁰' : datum.value == 10 ? '10¹' : datum.value == 100 ? '10²' : ''", "title": null, "tickSize": -4, "labelPadding": 10}},
        "color": {"field": "s", "type": "nominal", "scale": {"domain": [1,2,3,4,5,6], "range": ["#0072BD","#D95319","#EDB120","#7E2F8E","#77AC30","#4DBEEE"]}, "legend": null}}},
       {"mark": {"type": "line", "opacity": 0}, "encoding": {
        "x": {"field": "x", "type": "quantitative", "scale": {"domain": [0, 50], "nice": false, "zero": false}, "axis": {"orient": "top", "values": [0,10,20,30,40,50], "title": null}},
        "y": {"field": "n", "type": "quantitative", "scale": {"type": "log", "domain": [1, 100], "nice": false}, "axis": {"orient": "right", "values": [1,2,3,4,5,6,7,8,9,10,20,30,40,50,60,70,80,90,100], "title": null}}}}
      ]}
    ]}
   ]}
 ]},
 {"spacing": -3, "resolve": {"scale": {"color": "independent"}, "legend": {"color": "independent"}},
  "vconcat": [
  {"title": {"text": "(c)", "anchor": "start", "font": "Liberation Serif", "fontSize": 24, "fontWeight": "normal", "color": "black", "offset": -20},
   "resolve": {"scale": {"color": "independent"}, "legend": {"color": "independent"}},
   "vconcat": [
    {"width": 750, "height": 157,
     "title": {"text": "2015", "fontSize": 24, "fontWeight": "bold", "color": "black", "offset": -7},
     "data": {"name": "h"}, "transform": [{"filter": "datum.p == 'c'"}],
     "resolve": {"axis": {"x": "independent", "y": "independent"}},
     "layer": [
      {"mark": {"type": "line"},
       "encoding": {
        "x": {"field": "x", "type": "quantitative", "scale": {"domain": [0, 100], "nice": false, "zero": false}, "axis": {"values": [0,10,20,30,40,50,60,70,80,90,100], "title": "Calving event primary share (%)", "tickSize": -6, "labelPadding": 16, "titlePadding": -5}},
        "y": {"field": "n", "type": "quantitative", "scale": {"type": "log", "domain": [1, 1000], "nice": false}, "axis": {"values": [1,2,3,4,5,6,7,8,9,10,20,30,40,50,60,70,80,90,100,200,300,400,500,600,700,800,900,1000], "labelExpr": "datum.value == 1 ? '10⁰' : datum.value == 100 ? '10²' : ''", "title": "Occurrence", "tickSize": -4, "labelPadding": 10, "titlePadding": 9}},
        "color": {"field": "s", "type": "nominal", "scale": {"domain": [1,2,3,4,5,6], "range": ["#0072BD","#D95319","#EDB120","#7E2F8E","#77AC30","#4DBEEE"]},
         "legend": {"orient": "top-left", "offset": 13, "title": null, "labelExpr": "'Section ' + datum.label", "symbolType": "M-2.25,-0.85H2.25V0.85H-2.25Z", "symbolSize": 256, "symbolStrokeWidth": 3, "symbolFillColor": "transparent", "symbolOffset": 11, "clipHeight": 16, "labelFontSize": 16, "labelFont": "Liberation Sans", "labelColor": "black", "strokeColor": "#262626", "fillColor": "white", "padding": 4, "rowPadding": 3.5, "labelOffset": 11}}}},
      {"mark": {"type": "line", "opacity": 0},
       "encoding": {
        "x": {"field": "x", "type": "quantitative", "scale": {"domain": [0, 100], "nice": false, "zero": false}, "axis": {"orient": "top", "values": [0,10,20,30,40,50,60,70,80,90,100], "title": null, "tickSize": -6}},
        "y": {"field": "n", "type": "quantitative", "scale": {"type": "log", "domain": [1, 1000], "nice": false}, "axis": {"orient": "right", "values": [1,2,3,4,5,6,7,8,9,10,20,30,40,50,60,70,80,90,100,200,300,400,500,600,700,800,900,1000], "title": null}}}}
     ]}
   ]},
  {"title": {"text": "(d)", "anchor": "start", "font": "Liberation Serif", "fontSize": 24, "fontWeight": "normal", "color": "black", "offset": 6},
   "spacing": 6,
   "vconcat": [
    {"spacing": 67, "bounds": "flush", "hconcat": [
     {"width": 205, "height": 148, "title": {"text": "SECTION 1", "fontSize": 27, "fontWeight": "normal", "color": "black", "offset": -45, "frame": "group"},
      "data": {"name": "h"}, "transform": [{"filter": "datum.p == 'd1'"}], "resolve": {"axis": {"x": "independent", "y": "independent"}},
      "layer": [
       {"mark": {"type": "line"}, "encoding": {
        "x": {"field": "x", "type": "quantitative", "scale": {"domain": [0, 50], "nice": false, "zero": false}, "axis": {"values": [0,10,20,30,40,50], "title": null, "tickSize": -5, "labelPadding": 15}},
        "y": {"field": "n", "type": "quantitative", "scale": {"type": "log", "domain": [1, 100], "nice": false}, "axis": {"values": [1,2,3,4,5,6,7,8,9,10,20,30,40,50,60,70,80,90,100], "labelExpr": "datum.value == 1 ? '10⁰' : datum.value == 10 ? '10¹' : datum.value == 100 ? '10²' : ''", "title": "Occurrence", "tickSize": -4, "labelPadding": 10, "titlePadding": 9}},
        "color": {"field": "s", "type": "nominal", "scale": {"domain": [1,2,3,4,5,6], "range": ["#0072BD","#D95319","#EDB120","#7E2F8E","#77AC30","#4DBEEE"]}, "legend": null}}},
       {"mark": {"type": "line", "opacity": 0}, "encoding": {
        "x": {"field": "x", "type": "quantitative", "scale": {"domain": [0, 50], "nice": false, "zero": false}, "axis": {"orient": "top", "values": [0,10,20,30,40,50], "title": null}},
        "y": {"field": "n", "type": "quantitative", "scale": {"type": "log", "domain": [1, 100], "nice": false}, "axis": {"orient": "right", "values": [1,2,3,4,5,6,7,8,9,10,20,30,40,50,60,70,80,90,100], "title": null}}}}
      ]},
     {"width": 205, "height": 148, "title": {"text": "SECTION 2", "fontSize": 27, "fontWeight": "normal", "color": "black", "offset": -45, "frame": "group"},
      "data": {"name": "h"}, "transform": [{"filter": "datum.p == 'd2'"}], "resolve": {"axis": {"x": "independent", "y": "independent"}},
      "layer": [
       {"mark": {"type": "line"}, "encoding": {
        "x": {"field": "x", "type": "quantitative", "scale": {"domain": [0, 50], "nice": false, "zero": false}, "axis": {"values": [0,10,20,30,40,50], "title": null, "tickSize": -5, "labelPadding": 15}},
        "y": {"field": "n", "type": "quantitative", "scale": {"type": "log", "domain": [1, 100], "nice": false}, "axis": {"values": [1,2,3,4,5,6,7,8,9,10,20,30,40,50,60,70,80,90,100], "labelExpr": "datum.value == 1 ? '10⁰' : datum.value == 10 ? '10¹' : datum.value == 100 ? '10²' : ''", "title": null, "tickSize": -4, "labelPadding": 10}},
        "color": {"field": "s", "type": "nominal", "scale": {"domain": [1,2,3,4,5,6], "range": ["#0072BD","#D95319","#EDB120","#7E2F8E","#77AC30","#4DBEEE"]}, "legend": null}}},
       {"mark": {"type": "line", "opacity": 0}, "encoding": {
        "x": {"field": "x", "type": "quantitative", "scale": {"domain": [0, 50], "nice": false, "zero": false}, "axis": {"orient": "top", "values": [0,10,20,30,40,50], "title": null}},
        "y": {"field": "n", "type": "quantitative", "scale": {"type": "log", "domain": [1, 100], "nice": false}, "axis": {"orient": "right", "values": [1,2,3,4,5,6,7,8,9,10,20,30,40,50,60,70,80,90,100], "title": null}}}}
      ]},
     {"width": 205, "height": 148, "title": {"text": "SECTION 3", "fontSize": 27, "fontWeight": "normal", "color": "black", "offset": -45, "frame": "group"},
      "data": {"name": "h"}, "transform": [{"filter": "datum.p == 'd3'"}], "resolve": {"axis": {"x": "independent", "y": "independent"}},
      "layer": [
       {"mark": {"type": "line"}, "encoding": {
        "x": {"field": "x", "type": "quantitative", "scale": {"domain": [0, 50], "nice": false, "zero": false}, "axis": {"values": [0,10,20,30,40,50], "title": null, "tickSize": -5, "labelPadding": 15}},
        "y": {"field": "n", "type": "quantitative", "scale": {"type": "log", "domain": [1, 100], "nice": false}, "axis": {"values": [1,2,3,4,5,6,7,8,9,10,20,30,40,50,60,70,80,90,100], "labelExpr": "datum.value == 1 ? '10⁰' : datum.value == 10 ? '10¹' : datum.value == 100 ? '10²' : ''", "title": null, "tickSize": -4, "labelPadding": 10}},
        "color": {"field": "s", "type": "nominal", "scale": {"domain": [1,2,3,4,5,6], "range": ["#0072BD","#D95319","#EDB120","#7E2F8E","#77AC30","#4DBEEE"]}, "legend": null}}},
       {"mark": {"type": "line", "opacity": 0}, "encoding": {
        "x": {"field": "x", "type": "quantitative", "scale": {"domain": [0, 50], "nice": false, "zero": false}, "axis": {"orient": "top", "values": [0,10,20,30,40,50], "title": null}},
        "y": {"field": "n", "type": "quantitative", "scale": {"type": "log", "domain": [1, 100], "nice": false}, "axis": {"orient": "right", "values": [1,2,3,4,5,6,7,8,9,10,20,30,40,50,60,70,80,90,100], "title": null}}}}
      ]}
    ]},
    {"spacing": 67, "bounds": "flush", "hconcat": [
     {"width": 205, "height": 148, "title": {"text": "SECTION 4", "fontSize": 27, "fontWeight": "normal", "color": "black", "offset": -45, "frame": "group"},
      "data": {"name": "h"}, "transform": [{"filter": "datum.p == 'd4'"}], "resolve": {"axis": {"x": "independent", "y": "independent"}},
      "layer": [
       {"mark": {"type": "line"}, "encoding": {
        "x": {"field": "x", "type": "quantitative", "scale": {"domain": [0, 50], "nice": false, "zero": false}, "axis": {"values": [0,10,20,30,40,50], "title": null, "tickSize": -5, "labelPadding": 15}},
        "y": {"field": "n", "type": "quantitative", "scale": {"type": "log", "domain": [1, 100], "nice": false}, "axis": {"values": [1,2,3,4,5,6,7,8,9,10,20,30,40,50,60,70,80,90,100], "labelExpr": "datum.value == 1 ? '10⁰' : datum.value == 10 ? '10¹' : datum.value == 100 ? '10²' : ''", "title": "Occurrence", "tickSize": -4, "labelPadding": 10, "titlePadding": 9}},
        "color": {"field": "s", "type": "nominal", "scale": {"domain": [1,2,3,4,5,6], "range": ["#0072BD","#D95319","#EDB120","#7E2F8E","#77AC30","#4DBEEE"]}, "legend": null}}},
       {"mark": {"type": "line", "opacity": 0}, "encoding": {
        "x": {"field": "x", "type": "quantitative", "scale": {"domain": [0, 50], "nice": false, "zero": false}, "axis": {"orient": "top", "values": [0,10,20,30,40,50], "title": null}},
        "y": {"field": "n", "type": "quantitative", "scale": {"type": "log", "domain": [1, 100], "nice": false}, "axis": {"orient": "right", "values": [1,2,3,4,5,6,7,8,9,10,20,30,40,50,60,70,80,90,100], "title": null}}}}
      ]},
     {"width": 205, "height": 148, "title": {"text": "SECTION 5", "fontSize": 27, "fontWeight": "normal", "color": "black", "offset": -45, "frame": "group"},
      "data": {"name": "h"}, "transform": [{"filter": "datum.p == 'd5'"}], "resolve": {"axis": {"x": "independent", "y": "independent"}},
      "layer": [
       {"mark": {"type": "line"}, "encoding": {
        "x": {"field": "x", "type": "quantitative", "scale": {"domain": [0, 50], "nice": false, "zero": false}, "axis": {"values": [0,10,20,30,40,50], "title": "Calving event secondary share (%)", "tickSize": -5, "labelPadding": 15, "titlePadding": 6}},
        "y": {"field": "n", "type": "quantitative", "scale": {"type": "log", "domain": [1, 100], "nice": false}, "axis": {"values": [1,2,3,4,5,6,7,8,9,10,20,30,40,50,60,70,80,90,100], "labelExpr": "datum.value == 1 ? '10⁰' : datum.value == 10 ? '10¹' : datum.value == 100 ? '10²' : ''", "title": null, "tickSize": -4, "labelPadding": 10}},
        "color": {"field": "s", "type": "nominal", "scale": {"domain": [1,2,3,4,5,6], "range": ["#0072BD","#D95319","#EDB120","#7E2F8E","#77AC30","#4DBEEE"]}, "legend": null}}},
       {"mark": {"type": "line", "opacity": 0}, "encoding": {
        "x": {"field": "x", "type": "quantitative", "scale": {"domain": [0, 50], "nice": false, "zero": false}, "axis": {"orient": "top", "values": [0,10,20,30,40,50], "title": null}},
        "y": {"field": "n", "type": "quantitative", "scale": {"type": "log", "domain": [1, 100], "nice": false}, "axis": {"orient": "right", "values": [1,2,3,4,5,6,7,8,9,10,20,30,40,50,60,70,80,90,100], "title": null}}}}
      ]},
     {"width": 205, "height": 148, "title": {"text": "SECTION 6", "fontSize": 27, "fontWeight": "normal", "color": "black", "offset": -45, "frame": "group"},
      "data": {"name": "h"}, "transform": [{"filter": "datum.p == 'd6'"}], "resolve": {"axis": {"x": "independent", "y": "independent"}},
      "layer": [
       {"mark": {"type": "line"}, "encoding": {
        "x": {"field": "x", "type": "quantitative", "scale": {"domain": [0, 50], "nice": false, "zero": false}, "axis": {"values": [0,10,20,30,40,50], "title": null, "tickSize": -5, "labelPadding": 15}},
        "y": {"field": "n", "type": "quantitative", "scale": {"type": "log", "domain": [1, 100], "nice": false}, "axis": {"values": [1,2,3,4,5,6,7,8,9,10,20,30,40,50,60,70,80,90,100], "labelExpr": "datum.value == 1 ? '10⁰' : datum.value == 10 ? '10¹' : datum.value == 100 ? '10²' : ''", "title": null, "tickSize": -4, "labelPadding": 10}},
        "color": {"field": "s", "type": "nominal", "scale": {"domain": [1,2,3,4,5,6], "range": ["#0072BD","#D95319","#EDB120","#7E2F8E","#77AC30","#4DBEEE"]}, "legend": null}}},
       {"mark": {"type": "line", "opacity": 0}, "encoding": {
        "x": {"field": "x", "type": "quantitative", "scale": {"domain": [0, 50], "nice": false, "zero": false}, "axis": {"orient": "top", "values": [0,10,20,30,40,50], "title": null}},
        "y": {"field": "n", "type": "quantitative", "scale": {"type": "log", "domain": [1, 100], "nice": false}, "axis": {"orient": "right", "values": [1,2,3,4,5,6,7,8,9,10,20,30,40,50,60,70,80,90,100], "title": null}}}}
      ]}
    ]}
   ]}
 ]}
]
}
